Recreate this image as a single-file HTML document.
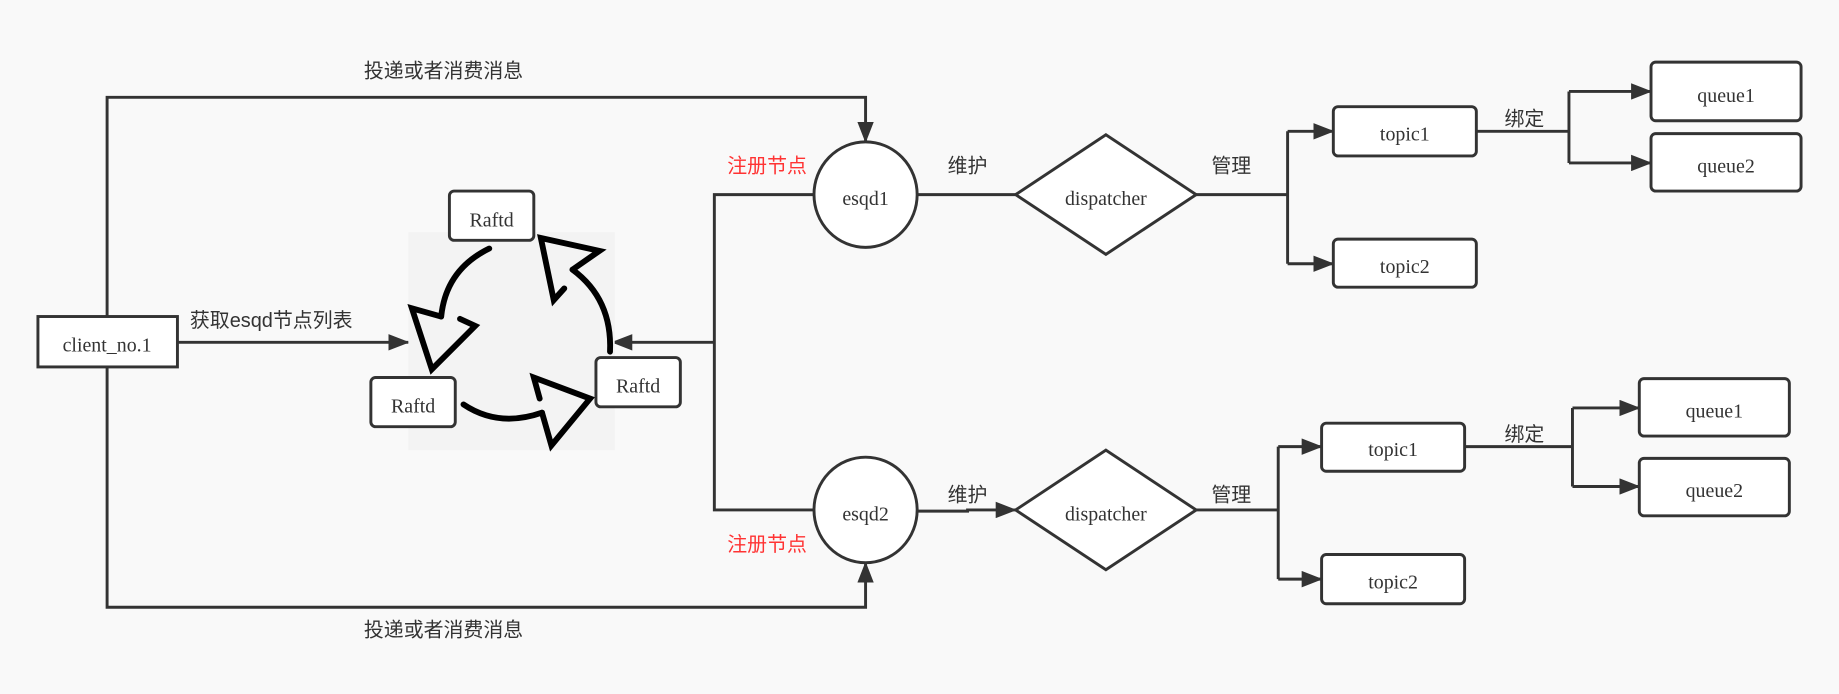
<!DOCTYPE html>
<html><head><meta charset="utf-8"><style>
html,body{margin:0;padding:0;background:#f9f9f9;width:1839px;height:694px;overflow:hidden}
svg{display:block}
.t{font-family:"Liberation Serif",serif;font-size:17px;fill:#333;text-anchor:middle}
.c{font-family:"Liberation Sans","Noto Sans CJK SC",sans-serif;font-size:17px;fill:#333;text-anchor:middle}
.r{fill:#ff3333}
</style></head><body>
<svg width="1839" height="694" viewBox="0 0 1568 592" xmlns="http://www.w3.org/2000/svg">
<defs>
<marker id="a" markerWidth="10" markerHeight="10" refX="9" refY="5" orient="auto" markerUnits="userSpaceOnUse" viewBox="0 0 10 10"><path d="M0,0 L10,5 L0,10 z" fill="#333"/></marker>
<marker id="b" markerWidth="18" markerHeight="14" refX="17" refY="7" orient="auto" markerUnits="userSpaceOnUse"><path d="M0,0 L18,7 L0,14 z" fill="#333"/></marker>
</defs>
<rect width="1568" height="592" fill="#f9f9f9"/>
<g fill="none" stroke="#333" stroke-width="2.5">
<!-- top / bottom client lines -->
<path d="M91,270 V83 H738 V121" marker-end="url(#b)"/>
<path d="M91,313 V518 H738 V480" marker-end="url(#b)"/>
<path d="M151,292 H348" marker-end="url(#b)"/>
<path d="M694,166 H609 V435 H694"/>
<path d="M609,292 H522" marker-end="url(#b)"/>
<path d="M783,166 H866"/>
<path d="M783,436 H825 V435 H866" marker-end="url(#b)"/>
<path d="M1020,166 H1098 M1098,112 V225"/>
<path d="M1098,112 H1137" marker-end="url(#b)"/>
<path d="M1098,225 H1137" marker-end="url(#b)"/>
<path d="M1020,435 H1090 M1090,381 V494"/>
<path d="M1090,381 H1127" marker-end="url(#b)"/>
<path d="M1090,494 H1127" marker-end="url(#b)"/>
<path d="M1259,112 H1338 M1338,78 V139"/>
<path d="M1338,78 H1408" marker-end="url(#b)"/>
<path d="M1338,139 H1408" marker-end="url(#b)"/>
<path d="M1249,381 H1341 M1341,348 V415"/>
<path d="M1341,348 H1398" marker-end="url(#b)"/>
<path d="M1341,415 H1398" marker-end="url(#b)"/>
</g>
<!-- raft cycle -->
<rect x="348" y="198" width="176" height="186" fill="#f3f3f3"/>
<g fill="none" stroke="#000" stroke-width="5" stroke-linejoin="miter" stroke-linecap="round">
<path d="M417,212 Q380,230 376,270"/>
<path d="M376,270 L351,263 L368,315 L405,278 L392,272"/>
<path d="M520,300 Q522,255 488,230"/>
<path d="M488,230 L511,214 L461,203 L472,256 L481,246"/>
<path d="M395,345 Q425,365 462,352"/>
<path d="M462,352 L470,380 L503,340 L455,322 L460,340"/>
</g>
<g fill="#fff" stroke="#333" stroke-width="2.5">
<rect x="32" y="270" width="119" height="43"/>
<rect x="383" y="163" width="72" height="42" rx="4"/>
<rect x="316" y="322" width="72" height="42" rx="4"/>
<rect x="508" y="305" width="72" height="42" rx="4"/>
<ellipse cx="738" cy="166" rx="44" ry="45"/>
<ellipse cx="738" cy="435" rx="44" ry="45"/>
<path d="M866,166 L943,115 L1020,166 L943,217 z"/>
<path d="M866,435 L943,384 L1020,435 L943,486 z"/>
<rect x="1137" y="91" width="122" height="42" rx="4"/>
<rect x="1137" y="204" width="122" height="41" rx="4"/>
<rect x="1127" y="361" width="122" height="41" rx="4"/>
<rect x="1127" y="473" width="122" height="42" rx="4"/>
<rect x="1408" y="53" width="128" height="50" rx="4"/>
<rect x="1408" y="114" width="128" height="49" rx="4"/>
<rect x="1398" y="323" width="128" height="49" rx="4"/>
<rect x="1398" y="391" width="128" height="49" rx="4"/>
</g>
<text class="t" x="91" y="300">client_no.1</text>
<text class="t" x="419" y="193">Raftd</text>
<text class="t" x="352" y="352">Raftd</text>
<text class="t" x="544" y="335">Raftd</text>
<text class="t" x="738" y="175">esqd1</text>
<text class="t" x="738" y="444">esqd2</text>
<text class="t" x="943" y="175">dispatcher</text>
<text class="t" x="943" y="444">dispatcher</text>
<text class="t" x="1198" y="120">topic1</text>
<text class="t" x="1198" y="233">topic2</text>
<text class="t" x="1188" y="389">topic1</text>
<text class="t" x="1188" y="502">topic2</text>
<text class="t" x="1472" y="87">queue1</text>
<text class="t" x="1472" y="147">queue2</text>
<text class="t" x="1462" y="356">queue1</text>
<text class="t" x="1462" y="424">queue2</text>
<text class="c" x="378" y="66">投递或者消费消息</text>
<text class="c" x="378" y="543">投递或者消费消息</text>
<text class="c" x="231" y="279">获取esqd节点列表</text>
<text class="c r" x="654" y="147">注册节点</text>
<text class="c r" x="654" y="470">注册节点</text>
<text class="c" x="825" y="147">维护</text>
<text class="c" x="825" y="428">维护</text>
<text class="c" x="1050" y="147">管理</text>
<text class="c" x="1050" y="428">管理</text>
<text class="c" x="1300" y="107">绑定</text>
<text class="c" x="1300" y="376">绑定</text>
</svg>
</body></html>
